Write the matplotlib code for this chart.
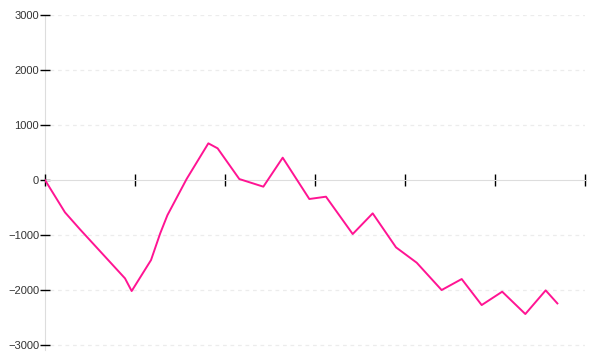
import matplotlib.pyplot as plt

xs = [0, 0.222, 0.389, 0.889, 0.963, 1.178, 1.28, 1.36, 1.574, 1.815, 1.918,
      2.159, 2.426, 2.641, 2.937, 3.122, 3.419, 3.641, 3.9, 4.13, 4.407,
      4.63, 4.852, 5.08, 5.337, 5.563, 5.693]
ys = [0, -588, -897, -1788, -2018, -1455, -970, -640, 20, 667, 576,
      18, -121, 406, -345, -303, -982, -606, -1224, -1503, -2000,
      -1800, -2273, -2030, -2436, -2006, -2243]
yticks = [-3000, -2000, -1000, 0, 1000, 2000, 3000]
xticks = [0, 1, 2, 3, 4, 5, 6]

plt.rcParams['font.family'] = ['Liberation Sans', 'DejaVu Sans']

fig = plt.figure(figsize=(6, 3.6), dpi=100)
ax = fig.add_axes([45 / 600, 10 / 360, 540 / 600, 335 / 360])

# dotted grid (no line at zero)
for v in yticks:
    if v != 0:
        ax.axhline(v, xmin=5 / 540, color='#ececec', lw=0.9, ls=(0, (3, 3)), zorder=0)

ax.plot(xs, ys, color='#ff1493', lw=1.4, zorder=3)

ax.set_xlim(0, 6)
ax.set_ylim(-3090, 3000)

ax.spines['top'].set_visible(False)
ax.spines['right'].set_visible(False)
ax.spines['left'].set_color('#dddddd')
ax.spines['bottom'].set_position(('data', 0))
ax.spines['bottom'].set_color('#dddddd')
ax.spines['left'].set_zorder(1)

ax.set_xticks(xticks)
ax.set_xticklabels([])
ax.tick_params(axis='x', direction='inout', length=8, width=1, color='black')

ax.set_yticks(yticks)
ax.set_yticklabels([str(v).replace('-', '\u2212') for v in yticks])
ax.tick_params(axis='y', direction='inout', length=7.5, width=1, color='black',
               labelsize=8, labelcolor='#333333', pad=0.5)

fig.savefig('out.png', dpi=100)
